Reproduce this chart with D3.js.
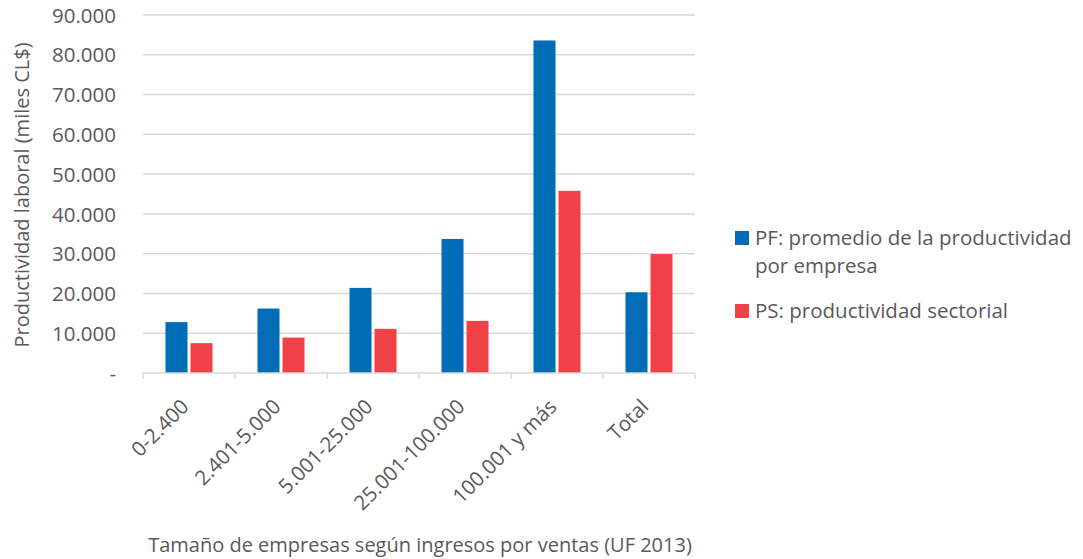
<!DOCTYPE html>
<html>
<head>
<meta charset="utf-8">
<script src="https://cdn.jsdelivr.net/npm/d3@7"></script>
<style>
  body { margin: 0; background: #fff; }
  text { font-family: "Open Sans", sans-serif; fill: #595959; }
</style>
</head>
<body>
<div id="chart"></div>
<script>
// categories and values
var categories = ["0-2.400", "2.401-5.000", "5.001-25.000", "25.001-100.000", "100.001 y más", "Total"];
var seriesNames = ["PF: promedio de la productividad por empresa", "PS: productividad sectorial"];
var pfValues = [12800, 16200, 21400, 33700, 83600, 20300];
var psValues = [7500, 8900, 11100, 13100, 45800, 29900];
var yTicks = [0, 10000, 20000, 30000, 40000, 50000, 60000, 70000, 80000, 90000];
var colors = ["#006db6", "#ef4146"];

function main() {
   drawBarGraph();
}

function drawBarGraph() {
   var margin = {top: 15, right: 388, bottom: 186, left: 143},
       width = 1083 - margin.left - margin.right,
       height = 559 - margin.top - margin.bottom;

   var svg = d3.select("#chart").append("svg")
       .attr("width", 1083)
       .attr("height", 559)
     .append("g")
       .attr("transform", "translate(" + margin.left + "," + margin.top + ")");

   var y = d3.scaleLinear()
      .domain([0, 90000])
      .range([height, 0]);

   var x0 = d3.scaleBand()
      .domain(categories)
      .range([0, width])
      .paddingInner(0);

   var x1 = d3.scaleBand()
      .domain([0, 1])
      .range([0, x0.bandwidth()])
      .paddingInner(0.12)
      .paddingOuter(0.9);

   var fmt = function(v) {
      if (v === 0) return "-";
      return d3.format(",")(v).replace(/,/g, ".");
   };

   //gridlines
   svg.append("g")
      .attr("class", "grid")
      .selectAll("line")
      .data(yTicks.slice(1))
      .enter().append("line")
         .attr("x1", 0)
         .attr("x2", width)
         .attr("y1", function(d) { return y(d); })
         .attr("y2", function(d) { return y(d); })
         .attr("stroke", "#d9d9d9")
         .attr("stroke-width", 1.5);

   //y axis labels
   var yAxis = d3.axisLeft(y)
      .tickValues(yTicks)
      .tickFormat(fmt)
      .tickSize(0)
      .tickPadding(0);

   var yg = svg.append("g")
      .attr("class", "y axis")
      .attr("transform", "translate(-27,0)")
      .call(yAxis);
   yg.select(".domain").remove();
   yg.selectAll("text")
      .style("font-size", "20.5px")
      .attr("dy", "0.35em");

   //bars
   var data = categories.map(function(c, i) {
      return {cat: c, values: [pfValues[i], psValues[i]]};
   });

   var groups = svg.selectAll(".cat")
      .data(data)
      .enter().append("g")
         .attr("class", "cat")
         .attr("transform", function(d) { return "translate(" + x0(d.cat) + ",0)"; });

   groups.selectAll("rect")
      .data(function(d) { return d.values.map(function(v, j) { return {s: j, v: v}; }); })
      .enter().append("rect")
         .attr("x", function(d) { return x1(d.s); })
         .attr("width", x1.bandwidth())
         .attr("y", function(d) { return y(d.v); })
         .attr("height", function(d) { return height - y(d.v); })
         .attr("fill", function(d) { return colors[d.s]; });

   //x axis
   var xAxis = d3.axisBottom(x0)
      .tickSize(0)
      .tickPadding(0);

   var xg = svg.append("g")
      .attr("class", "x axis")
      .attr("transform", "translate(0," + height + ")")
      .call(xAxis);
   xg.select(".domain")
      .attr("stroke", "#d9d9d9")
      .attr("stroke-width", 1.5)
      .attr("d", "M0,0H" + width);

   //boundary tick marks
   xg.selectAll(".bound")
      .data(d3.range(categories.length + 1))
      .enter().append("line")
         .attr("class", "bound")
         .attr("x1", function(i) { return i * x0.step(); })
         .attr("x2", function(i) { return i * x0.step(); })
         .attr("y1", 0)
         .attr("y2", 6)
         .attr("stroke", "#d9d9d9")
         .attr("stroke-width", 1.5);

   xg.selectAll(".tick text")
      .style("font-size", "20.5px")
      .style("text-anchor", "end")
      .attr("dy", "0")
      .attr("y", 0)
      .attr("transform", "translate(1,35) rotate(-45)");

   //axis titles
   svg.append("text")
      .attr("transform", "translate(-121," + (height / 2 + 1) + ") rotate(-90)")
      .attr("text-anchor", "middle")
      .attr("dy", "0.35em")
      .style("font-size", "20px")
      .text("Productividad laboral (miles CL$)");

   svg.append("text")
      .attr("x", width / 2 + 1)
      .attr("y", 537)
      .attr("text-anchor", "middle")
      .style("font-size", "20px")
      .text("Tamaño de empresas según ingresos por ventas (UF 2013)");

   //legend
   var legend = d3.select("svg").append("g")
      .attr("class", "legend")
      .attr("transform", "translate(735,231)");

   var legendLines = [["PF: promedio de la productividad", "por empresa"], ["PS: productividad sectorial"]];
   var legendY = [0, 73];

   legendLines.forEach(function(lines, i) {
      var g = legend.append("g").attr("transform", "translate(0," + legendY[i] + ")");
      g.append("rect")
         .attr("x", 0)
         .attr("y", 0)
         .attr("width", 14)
         .attr("height", 14)
         .attr("fill", colors[i]);
      lines.forEach(function(t, k) {
         g.append("text")
            .attr("x", 20)
            .attr("y", 14 + k * 28)
            .style("font-size", "20.5px")
            .text(t);
      });
   });
}

main();
</script>
</body>
</html>
